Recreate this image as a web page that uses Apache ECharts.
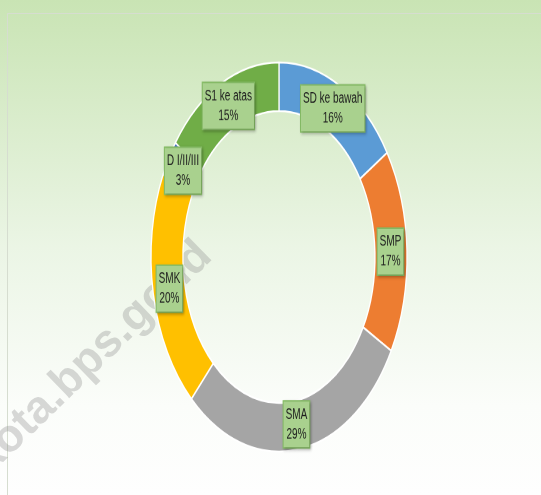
<!DOCTYPE html>
<html>
<head>
<meta charset="utf-8">
<script src="https://cdn.jsdelivr.net/npm/echarts@6/dist/echarts.min.js"></script>
<style>
  html, body { margin: 0; padding: 0; }
  .layer { position: absolute; left: 0; top: 0; width: 541px; height: 495px; }
  /* the reference picture is squeezed sideways, so the ring is an ellipse
     and the label text is tall and narrow: stretch the whole pie layer */
  #pie { transform: scaleY(1.52); transform-origin: 279px 257px; }
</style>
</head>
<body>
<div class="layer" id="bg"></div>
<div class="layer" id="pie"></div>
<script>
// Tingkat pendidikan
const categories = ['SD ke bawah', 'SMP', 'SMA', 'SMK', 'D I/II/III', 'S1 ke atas'];
const values = [16, 17, 29, 20, 3, 15];
const colors = ['#5B9BD5', '#ED7D31', '#A5A5A5', '#FFC000', '#4472C4', '#70AD47'];

const center = [279, 257];
const radius = [96, 128];

// background, plot area frame and watermark
const bgChart = echarts.init(document.getElementById('bg'));
bgChart.setOption({
  animation: false,
  backgroundColor: {
    type: 'linear', x: 0, y: 0, x2: 0, y2: 1,
    colorStops: [
      { offset: 0, color: '#C9E4B4' },
      { offset: 0.5, color: '#EBF5E5' },
      { offset: 0.82, color: '#FBFDFA' },
      { offset: 1, color: '#FEFEFE' }
    ]
  },
  graphic: [
    {
      type: 'rect',
      shape: { x: 7.5, y: 13.5, width: 700, height: 700 },
      style: { fill: 'none', stroke: '#D6DDD0', lineWidth: 1 }
    },
    {
      type: 'text',
      x: -19, y: 466,
      rotation: 0.77,
      style: {
        text: 'kota.bps.go.id',
        font: 'bold 46px "Liberation Sans", Arial, sans-serif',
        fill: 'rgba(140,140,140,0.33)',
        align: 'left',
        verticalAlign: 'middle'
      }
    }
  ]
});

// ring and labels (drawn before the vertical stretch)
const pieChart = echarts.init(document.getElementById('pie'), null, { devicePixelRatio: 2 });
pieChart.setOption({
  animation: false,
  color: colors,
  series: [
    {
      type: 'pie',
      center: center,
      radius: radius,
      startAngle: 90,
      clockwise: true,
      silent: true,
      itemStyle: { borderColor: '#FFFFFF', borderWidth: 1.3 },
      labelLine: { show: false },
      label: {
        show: true,
        position: 'inside',
        formatter: '{b}\n{c}%',
        fontFamily: '"Liberation Sans", Arial, sans-serif',
        fontSize: 10,
        lineHeight: 13,
        color: '#1E1E1E',
        backgroundColor: '#A9D18E',
        borderColor: '#86BD66',
        borderWidth: 1,
        padding: [2, 2, 2, 2],
        shadowColor: 'rgba(0,0,0,0.22)',
        shadowBlur: 2,
        shadowOffsetX: 1,
        shadowOffsetY: 1
      },
      // pull the labels a little towards the middle of the ring
      labelLayout: function (params) {
        const r = params.labelRect;
        const lx = r.x + r.width / 2;
        const ly = r.y + r.height / 2;
        return {
          x: center[0] + (lx - center[0]) * 0.97,
          y: center[1] + (ly - center[1]) * 0.97
        };
      },
      data: categories.map((name, i) => ({ name: name, value: values[i] }))
    }
  ]
});
</script>
</body>
</html>
